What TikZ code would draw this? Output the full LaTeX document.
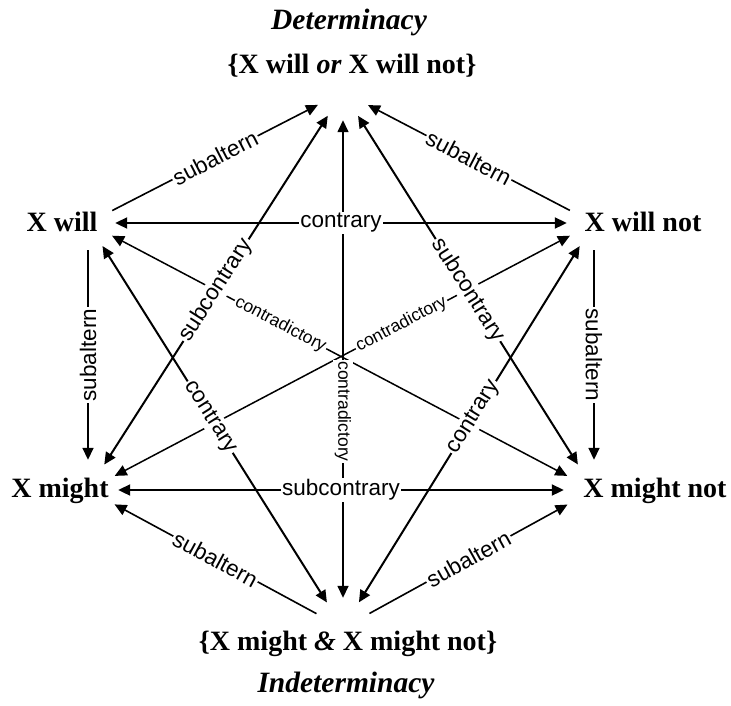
\documentclass[tikz,border=0pt]{standalone}
\usepackage{fontspec}
\setmainfont{Liberation Serif}
\setsansfont{Liberation Sans}
\usetikzlibrary{arrows.meta}
\tikzset{
  term/.style={font=\fontsize{28}{30}\selectfont\bfseries, anchor=base, inner sep=0pt},
  ttl/.style={font=\fontsize{29.5}{32}\selectfont\bfseries\itshape, anchor=base, inner sep=0pt},
  hub/.style={circle, minimum size=#1, inner sep=0pt},
  strong/.style={line width=2pt},
  weak/.style={line width=1.6pt},
  cdline/.style={line width=1.5pt},
  lbl/.style={font=\sffamily\fontsize{22.5}{23}\selectfont, fill=white, inner sep=1.5pt},
  small/.style={font=\sffamily\fontsize{17.5}{18}\selectfont, fill=white, inner sep=1.5pt},
}
\begin{document}
\begin{tikzpicture}[x=1pt, y=-1pt, >={Triangle[length=12pt,width=11pt]}]
\fill[white] (0,0) rectangle (731,705);
\useasboundingbox (0,0) rectangle (731,705);

% texts
\node[ttl] (det) at (349,29) {Determinacy};
\node[term] (tT) at (352,73) {\{X will \textit{or} X will not\}};
\node[term] (tW) at (62,231) {X will};
\node[term] (tWN) at (643,231) {X will not};
\node[term] (tM) at (60,497) {X might};
\node[term] (tMN) at (655,497) {X might not};
\node[term] (tB) at (348,650) {\{X might \textit{\&} X might not\}};
\node[ttl] (ind) at (346,692) {Indeterminacy};

% invisible hubs where connectors meet
\node[hub=56pt] (T) at (343,92) {};
\node[hub=54pt] (W) at (88,223) {};
\node[hub=54pt] (WN) at (594,223) {};
\node[hub=60pt] (M) at (88,490) {};
\node[hub=60pt] (MN) at (594,490) {};
\node[hub=60pt] (B) at (343,628) {};

% contradictory
\draw[cdline,<->] (W) -- node[small, sloped, pos=0.37] {contradictory} (MN);
\draw[cdline,<->] (M) -- node[small, sloped, pos=0.63] {contradictory} (WN);
\draw[cdline,<->] (T) -- node[small, rotate=-90, pos=0.61] {contradictory} (B);

% subaltern
\draw[weak,->] (W) -- node[lbl, sloped] {subaltern} (T);
\draw[weak,->] (WN) -- node[lbl, sloped] {subaltern} (T);
\draw[weak,->] (W) -- node[lbl, rotate=90] {subaltern} (M);
\draw[weak,->] (WN) -- node[lbl, rotate=-90] {subaltern} (MN);
\draw[weak,->] (B) -- node[lbl, sloped] {subaltern} (M);
\draw[weak,->] (B) -- node[lbl, sloped] {subaltern} (MN);

% contrary
\draw[strong,<->] (W) -- node[lbl] {contrary} (WN);
\draw[strong,<->] (W) -- node[lbl, sloped, pos=0.48] {contrary} (B);
\draw[strong,<->] (WN) -- node[lbl, sloped, pos=0.48] {contrary} (B);

% subcontrary
\draw[strong,<->] (M) -- node[lbl] {subcontrary} (MN);
\draw[strong,<->] (M) -- node[lbl, sloped] {subcontrary} (T);
\draw[strong,<->] (MN) -- node[lbl, sloped] {subcontrary} (T);
\end{tikzpicture}
\end{document}
